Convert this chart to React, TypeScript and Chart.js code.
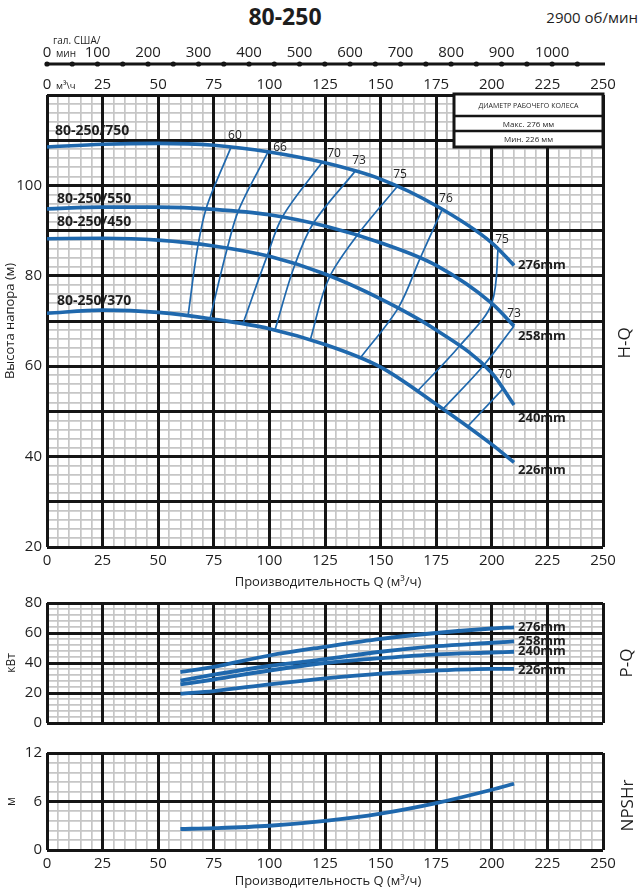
import { useEffect, useRef } from "react";
import { Chart, registerables } from "chart.js";
import type { ChartConfiguration, Plugin, Scale } from "chart.js";

Chart.register(...registerables);

const FONT = "'Open Sans', 'Noto Sans', 'DejaVu Sans', sans-serif";
const NARROW = "'Liberation Sans Narrow', 'Open Sans', sans-serif";
const INK = "#1e1e1e";
const BLUE = "#1f68ad";
const MAJOR = "#151515";
const MINOR = "#c6c6c6";
const GPM_PER_M3H = 4.4029;

// axis ticks
const flowTicks = [0, 25, 50, 75, 100, 125, 150, 175, 200, 225, 250];
const galTicks = [0, 50, 100, 150, 200, 250, 300, 350, 400, 450, 500, 550, 600, 650, 700, 750, 800, 850, 900, 950, 1000, 1050];
const galLabels = [0, 100, 200, 300, 400, 500, 600, 700, 800, 900, 1000];
const headLabels = [20, 40, 60, 80, 100];
const powerLabels = [0, 20, 40, 60, 80];
const npshLabels = [0, 6, 12];

// H-Q, head in m against Q in m3/h
const models = ["80-250/750", "80-250/550", "80-250/450", "80-250/370"];
const impellers = ["276mm", "258mm", "240mm", "226mm"];
const headQ = [0, 25, 50, 75, 100, 125, 150, 175, 200, 210];
const head276 = [108.5, 109.1, 109.3, 108.9, 107.4, 105.0, 101.4, 95.5, 87.3, 82.3];
const head258 = [94.8, 95.2, 95.2, 94.7, 93.5, 91.0, 87.3, 82.3, 73.9, 68.9];
const head240 = [88.2, 88.3, 87.9, 86.6, 84.3, 80.4, 74.9, 68.0, 58.5, 51.4];
const head226 = [71.7, 72.4, 71.9, 70.4, 68.3, 64.8, 59.8, 51.6, 42.7, 38.7];
const headCurves = [head276, head258, head240, head226];

// efficiency lines (%), points from the top curve downwards
const effLabels = ["60", "66", "70", "73", "75", "76", "75", "73", "70"];
const effQ = [
  [82.7, 71.5, 68, 63.4],
  [99.4, 85.9, 81, 73.3],
  [123.7, 105.7, 99, 88],
  [138.5, 119.6, 111.5, 102.5],
  [157.4, 139.4, 127.2, 118.3],
  [177.6, 167.7, 157.8, 140.7],
  [202.8, 200, 185, 166.4],
  [210, 196, 178],
  [205, 189],
];
const effH = [
  [108.4, 94.8, 87.0, 71.1],
  [107.4, 94.2, 86.0, 70.5],
  [105.1, 92.9, 84.4, 69.3],
  [103.1, 91.5, 82.5, 68.0],
  [99.7, 88.9, 79.9, 65.7],
  [94.6, 83.8, 72.8, 61.7],
  [85.9, 73.9, 64.2, 54.4],
  [68.9, 60.0, 50.5],
  [55.0, 46.6],
];

// P-Q, kW
const powerQ = [60, 75, 100, 125, 150, 175, 200, 210];
const power276 = [33.9, 37.4, 45.0, 50.8, 56.1, 60.0, 63.0, 63.8];
const power258 = [28.3, 32.2, 38.0, 42.6, 47.5, 51.2, 53.5, 54.4];
const power240 = [25.7, 29.0, 35.0, 40.0, 43.2, 45.8, 47.0, 47.5];
const power226 = [19.6, 21.3, 25.8, 29.7, 32.9, 35.0, 36.1, 36.1];
const powerCurves = [power276, power258, power240, power226];

// NPSHr, m
const npshQ = [60, 75, 100, 125, 150, 175, 200, 210];
const npshM = [2.6, 2.7, 3.0, 3.6, 4.5, 5.8, 7.45, 8.2];

// label placement (pixels)
const modelDx = [8, 10, 10, 10];
const modelDy = [-16, -10, -17, -12];
const impellerDy = [0, 10, 13, 8];
const effDx = [4, 12, 12, 4, 3, 4, 4, 0, 2];
const effDy = [-12, -4, -9, -11, -12, -11, -10, -12, -14];

const pts = (xs: number[], ys: number[]) => xs.map((x, i) => ({ x, y: ys[i] }));

function range(min: number, max: number, step: number) {
  const out: number[] = [];
  for (let i = 0; min + i * step <= max + 1e-9; i++) out.push(+(min + i * step).toFixed(4));
  return out;
}

function gridAxes(dir: "x" | "y", min: number, max: number, major: number, minor: number,
  labels: number[], size: number, pad: number, showLabels = true) {
  const isX = dir === "x";
  const position = isX ? "bottom" : "left";
  const fit = (px: number) => (s: Scale) => {
    if (isX) s.height = px;
    else s.width = px;
  };
  return {
    [dir + "Minor"]: {
      type: "linear", position, min, max,
      afterBuildTicks: (s: Scale) => { s.ticks = range(min, max, minor).map((value) => ({ value })); },
      afterFit: fit(0),
      grid: { color: MINOR, lineWidth: 1.7, drawTicks: false, z: -2 },
      border: { display: false },
      ticks: { display: false },
    },
    [dir]: {
      type: "linear", position, min, max,
      afterBuildTicks: (s: Scale) => { s.ticks = range(min, max, major).map((value) => ({ value })); },
      afterFit: fit(size),
      grid: { color: MAJOR, lineWidth: 3, drawTicks: false, z: -1 },
      border: { display: false },
      ticks: {
        display: showLabels, autoSkip: false, maxRotation: 0, padding: pad, color: INK,
        font: { family: NARROW, size: 15 },
        callback: (v: number) => (labels.includes(v) ? String(v) : ""),
      },
    },
  };
}

type Txt = { t: string; x: number; y: number; size: number; bold?: boolean; align?: CanvasTextAlign; rot?: boolean; font?: string };

function textPlugin(id: string, build: (c: Chart) => Txt[]): Plugin {
  return {
    id,
    afterDraw(chart) {
      const ctx = chart.ctx;
      ctx.save();
      ctx.fillStyle = INK;
      ctx.textBaseline = "middle";
      for (const it of build(chart)) {
        ctx.font = `${it.bold ? "bold " : ""}${it.size}px ${it.font ?? FONT}`;
        ctx.textAlign = it.align ?? "left";
        if (it.rot) {
          ctx.save();
          ctx.translate(it.x, it.y);
          ctx.rotate(-Math.PI / 2);
          ctx.fillText(it.t, 0, 0);
          ctx.restore();
        } else {
          ctx.fillText(it.t, it.x, it.y);
        }
      }
      ctx.restore();
    },
  };
}

const galAxisLine: Plugin = {
  id: "galAxisLine",
  afterDraw(chart) {
    const gal = chart.scales.gal;
    const ctx = chart.ctx;
    const y = gal.bottom;
    ctx.save();
    ctx.strokeStyle = MAJOR;
    ctx.fillStyle = MAJOR;
    ctx.lineWidth = 2.8;
    ctx.beginPath();
    ctx.moveTo(gal.left - 2, y);
    ctx.lineTo(gal.right + 2, y);
    ctx.stroke();
    for (const v of galTicks) {
      ctx.beginPath();
      ctx.arc(gal.getPixelForValue(v), y, 2.6, 0, Math.PI * 2);
      ctx.fill();
    }
    ctx.restore();
  },
};

const diameterBox: Plugin = {
  id: "diameterBox",
  afterDatasetsDraw(chart) {
    const { ctx, chartArea: a } = chart;
    const w = 149;
    const x = a.right - w;
    const y = a.top - 1;
    const rows = [22, 15, 16];
    const h = rows.reduce((s, r) => s + r, 0);
    ctx.save();
    ctx.fillStyle = "#fff";
    ctx.fillRect(x, y, w, h);
    ctx.strokeStyle = MAJOR;
    ctx.lineWidth = 3;
    ctx.strokeRect(x, y, w, h);
    ctx.lineWidth = 2.5;
    let yy = y;
    const texts = ["ДИАМЕТР РАБОЧЕГО КОЛЕСА", "Макс. 276 мм", "Мин. 226 мм"];
    const sizes = [7, 8, 8];
    rows.forEach((r, i) => {
      if (i > 0) {
        ctx.beginPath();
        ctx.moveTo(x, yy);
        ctx.lineTo(x + w, yy);
        ctx.stroke();
      }
      ctx.fillStyle = INK;
      ctx.font = `${sizes[i]}px ${FONT}`;
      ctx.textAlign = "center";
      ctx.textBaseline = "middle";
      ctx.fillText(texts[i], x + w / 2, yy + r / 2 + 1);
      yy += r;
    });
    ctx.restore();
  },
};

const baseOptions = {
  responsive: false,
  animation: false as const,
  events: [] as never[],
  plugins: { legend: { display: false }, tooltip: { enabled: false } },
};

function makeHead(): ChartConfiguration {
  const curves = headCurves.map((h) => ({
    data: pts(headQ, h), borderColor: BLUE, borderWidth: 3.6, pointRadius: 0,
    cubicInterpolationMode: "monotone" as const, fill: false,
  }));
  // iso-efficiency lines run top to bottom, so interpolate along the head axis
  const eff = effQ.map((q, i) => ({
    data: pts(q, effH[i]), indexAxis: "y" as const, borderColor: BLUE, borderWidth: 1.7, pointRadius: 0,
    cubicInterpolationMode: "monotone" as const, fill: false,
  }));
  const labels = textPlugin("headLabels", (c) => {
    const a = c.chartArea;
    const x = c.scales.x;
    const y = c.scales.y;
    const gal = c.scales.gal;
    const top = c.scales.xTop;
    const out: Txt[] = [];
    headCurves.forEach((h, i) => {
      const last = h.length - 1;
      out.push({ t: models[i], x: x.getPixelForValue(headQ[0]) + modelDx[i], y: y.getPixelForValue(h[0]) + modelDy[i], size: 14, bold: true });
      out.push({ t: impellers[i], x: x.getPixelForValue(headQ[last]) + 4, y: y.getPixelForValue(h[last]) + impellerDy[i], size: 13, bold: true });
    });
    effQ.forEach((q, i) => {
      out.push({ t: effLabels[i], x: x.getPixelForValue(q[0]) + effDx[i], y: y.getPixelForValue(effH[i][0]) + effDy[i], size: 12, align: "center" });
    });
    out.push({ t: "Высота напора (м)", x: 10, y: (a.top + a.bottom) / 2, size: 13, rot: true, align: "center" });
    out.push({ t: "H-Q", x: 625, y: (a.top + a.bottom) / 2 + 22, size: 17, rot: true, align: "center" });
    out.push({ t: "Производительность Q (м³/ч)", x: (a.left + a.right) / 2 + 3, y: a.bottom + 35, size: 13, align: "center" });
    out.push({ t: "гал. США/", x: gal.getPixelForValue(0) + 6, y: 41, size: 10 });
    out.push({ t: "мин", x: gal.getPixelForValue(0) + 9, y: 54, size: 10 });
    out.push({ t: "м³\\ч", x: top.getPixelForValue(0) + 9, y: 86, size: 9.5 });
    return out;
  });
  return {
    type: "line",
    data: { datasets: [...curves, ...eff] },
    options: {
      ...baseOptions,
      layout: { padding: { top: 0, right: 37, bottom: 0, left: 0 } },
      scales: {
        ...gridAxes("x", 0, 250, 25, 5, flowTicks, 53, 4.6),
        ...gridAxes("y", 20, 120, 10, 2, headLabels, 47, 5),
        xTop: {
          type: "linear", position: "top", weight: 1, min: 0, max: 250,
          afterBuildTicks: (s: Scale) => { s.ticks = flowTicks.map((value) => ({ value })); },
          afterFit: (s: Scale) => { s.height = 31; },
          grid: { display: false, drawTicks: false },
          border: { display: false },
          ticks: { autoSkip: false, maxRotation: 0, padding: 1.6, color: INK, font: { family: NARROW, size: 15 } },
        },
        gal: {
          type: "linear", position: "top", weight: 2, min: 0, max: 250 * GPM_PER_M3H,
          afterBuildTicks: (s: Scale) => { s.ticks = galTicks.map((value) => ({ value })); },
          afterFit: (s: Scale) => { s.height = 64; },
          grid: { display: false, drawTicks: false },
          border: { display: false },
          ticks: {
            autoSkip: false, maxRotation: 0, padding: 2.6, color: INK, font: { family: NARROW, size: 15 },
            callback: (v: number) => (galLabels.includes(v) ? String(v) : ""),
          },
        },
      },
    },
    plugins: [diameterBox, galAxisLine, labels],
  } as ChartConfiguration;
}

function makePower(): ChartConfiguration {
  const curves = powerCurves.map((p) => ({
    data: pts(powerQ, p), borderColor: BLUE, borderWidth: 3.8, pointRadius: 0,
    cubicInterpolationMode: "monotone" as const, fill: false,
  }));
  const labels = textPlugin("powerLabels", (c) => {
    const a = c.chartArea;
    const x = c.scales.x;
    const y = c.scales.y;
    const out: Txt[] = powerCurves.map((p, i) => ({
      t: impellers[i], x: x.getPixelForValue(powerQ[powerQ.length - 1]) + 4,
      y: y.getPixelForValue(p[p.length - 1]) + (i === 3 ? 1 : 0), size: 13, bold: true,
    }));
    out.push({ t: "кВт", x: 12, y: (a.top + a.bottom) / 2, size: 12, rot: true, align: "center" });
    out.push({ t: "P-Q", x: 627, y: (a.top + a.bottom) / 2, size: 17, rot: true, align: "center" });
    return out;
  });
  return {
    type: "line",
    data: { datasets: curves },
    options: {
      ...baseOptions,
      layout: { padding: { top: 18, right: 37, bottom: 0, left: 0 } },
      scales: {
        ...gridAxes("x", 0, 250, 25, 5, [], 10, 0, false),
        ...gridAxes("y", 0, 80, 20, 4, powerLabels, 47, 5),
      },
    },
    plugins: [labels],
  } as ChartConfiguration;
}

function makeNpsh(): ChartConfiguration {
  const labels = textPlugin("npshLabels", (c) => {
    const a = c.chartArea;
    return [
      { t: "м", x: 12, y: (a.top + a.bottom) / 2, size: 12, rot: true, align: "center" },
      { t: "NPSHr", x: 628, y: (a.top + a.bottom) / 2 + 4, size: 17, rot: true, align: "center" },
      { t: "Производительность Q (м³/ч)", x: (a.left + a.right) / 2 + 3, y: a.bottom + 31, size: 13, align: "center" },
    ];
  });
  return {
    type: "line",
    data: {
      datasets: [{
        data: pts(npshQ, npshM), borderColor: BLUE, borderWidth: 3.8, pointRadius: 0,
        cubicInterpolationMode: "monotone", fill: false,
      }],
    },
    options: {
      ...baseOptions,
      layout: { padding: { top: 18, right: 37, bottom: 0, left: 0 } },
      scales: {
        ...gridAxes("x", 0, 250, 25, 5, flowTicks, 43, 4.6),
        ...gridAxes("y", 0, 12, 6, 1.2, npshLabels, 47, 5),
      },
    },
    plugins: [labels],
  } as ChartConfiguration;
}

function Panel({ top, height, make }: { top: number; height: number; make: () => ChartConfiguration }) {
  const ref = useRef<HTMLCanvasElement>(null);
  useEffect(() => {
    if (!ref.current) return;
    const chart = new Chart(ref.current, make());
    return () => chart.destroy();
  }, [make]);
  return (
    <canvas
      ref={ref}
      width={640}
      height={height}
      style={{ position: "absolute", left: 0, top, width: 640, height }}
    />
  );
}

export default function App() {
  return (
    <div style={{ position: "absolute", left: 0, top: 0, width: 640, height: 893, background: "#fff", fontFamily: FONT, color: INK }}>
      <div style={{ position: "absolute", left: 285, top: 16, transform: "translate(-50%, -50%)", fontSize: 23, fontWeight: 700, whiteSpace: "nowrap", lineHeight: 1 }}>
        80-250
      </div>
      <div style={{ position: "absolute", right: 2, top: 17, transform: "translateY(-50%)", fontSize: 15, whiteSpace: "nowrap", lineHeight: 1 }}>
        2900 об/мин
      </div>
      <Panel top={0} height={600} make={makeHead} />
      <Panel top={585} height={152} make={makePower} />
      <Panel top={735} height={158} make={makeNpsh} />
    </div>
  );
}
